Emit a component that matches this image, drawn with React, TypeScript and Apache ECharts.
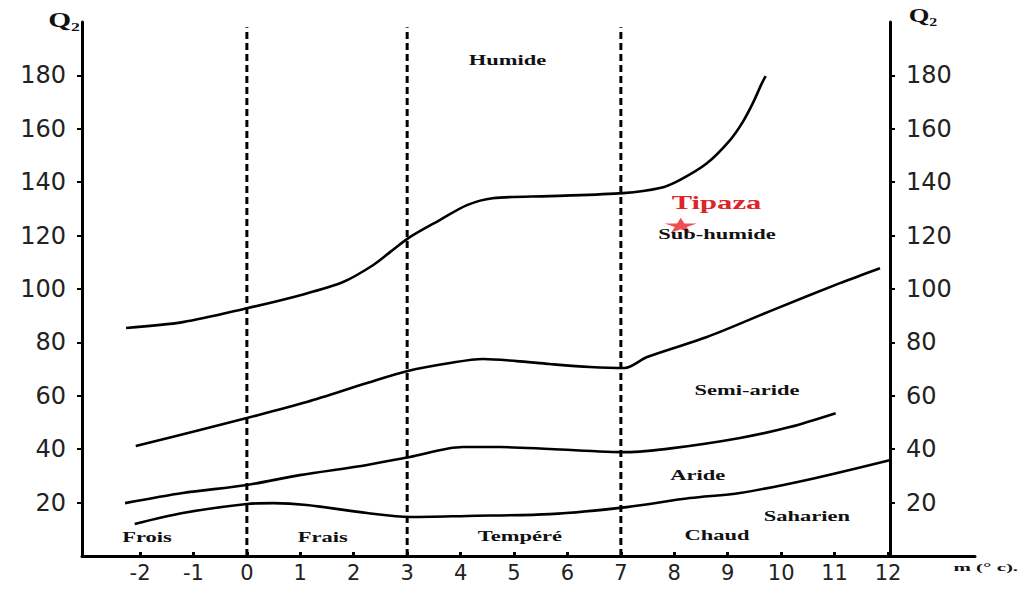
import React, { useEffect, useRef } from "react";
import * as echarts from "echarts";

// ---- data ----
const X_TICKS = [-2, -1, 0, 1, 2, 3, 4, 5, 6, 7, 8, 9, 10, 11, 12];
const Y_TICKS = [20, 40, 60, 80, 100, 120, 140, 160, 180];
const THERMAL_LIMITS = [0, 3, 7];

const humideLimit: [number, number][] = [
  [-2.26, 85.4], [-1.2, 87.6], [0, 92.8], [1, 97.7], [1.8, 102.6], [2.36, 108.9],
  [2.68, 113.8], [3.05, 119.4], [3.61, 125.8], [4.12, 131.4], [4.6, 134], [5.67, 134.8],
  [7.04, 135.9], [7.73, 137.8], [8.1, 140.8], [8.61, 147.1], [9.04, 155.7], [9.28, 162.5],
  [9.47, 169.6], [9.64, 177.1], [9.71, 179.7],
];
const subHumideLimit: [number, number][] = [
  [-2.08, 41.2], [-0.88, 47.2], [0, 51.7], [1.12, 57.7], [2.25, 64.8], [3.01, 69.3],
  [3.8, 72.3], [4.42, 73.8], [5.05, 73], [5.67, 71.9], [6.42, 70.8], [7.07, 70.4],
  [7.49, 74.5], [8.61, 82], [9.84, 92.1], [11.1, 102.2], [11.85, 107.8],
];
const semiArideLimit: [number, number][] = [
  [-2.28, 19.8], [-1.2, 23.6], [0, 26.6], [0.99, 30.3], [2.25, 34.1], [3.05, 37.1],
  [4.04, 40.8], [4.74, 40.8], [5.67, 40.1], [7.11, 38.9], [7.97, 40.4], [9.23, 44.2],
  [10.16, 48.3], [11.02, 53.5],
];
const arideLimit: [number, number][] = [
  [-2.1, 12], [-1.2, 16.1], [0, 19.5], [0.49, 19.8], [1.12, 19.1], [2.25, 16.1],
  [3.05, 14.6], [4.12, 15], [5.67, 15.7], [7.11, 18.3], [8.29, 21.7], [9.23, 23.6],
  [10.48, 28.5], [12.03, 35.9],
];
const STATION_NAME = "Tipaza";
const STATION: [number, number] = [8.12, 123.9];

const ZONE_TEXTS = [
  "Humide", "Sub-humide", "Semi-aride", "Aride", "Saharien",
  "Frois", "Frais", "Tempéré", "Chaud",
];
// anchors (data coordinates) for the texts above, in the same order
const ZONE_ANCHORS: [number, number][] = [
  [4.88, 185.7], [8.8, 120.6], [9.36, 62.1], [8.44, 30.3], [10.48, 15.0],
  [-1.87, 7.1], [1.42, 7.1], [5.11, 7.5], [8.8, 7.9],
];
const X_NAME = "m (° c).";
const Y_NAME = "Q₂";

const STAR =
  "path://M50,0 L61,35 L98,35 L68,57 L79,91 L50,70 L21,91 L32,57 L2,35 L39,35 Z";

const SERIF = '"Liberation Serif", "DejaVu Serif", serif';

export default function App() {
  const ref = useRef<HTMLDivElement>(null);
  useEffect(() => {
    if (!ref.current) return;
    const chart = echarts.init(ref.current, null, { renderer: "svg" });
    const curve = (data: [number, number][]) => ({
      type: "line",
      data,
      showSymbol: false,
      smooth: 0.3,
      lineStyle: { color: "#000", width: 2.6 },
      silent: true,
      z: 3,
    });
    const yAxisCommon = {
      type: "value",
      min: 0,
      max: 200,
      splitLine: { show: false },
      axisLine: { show: true, onZero: false, lineStyle: { color: "#000", width: 3 } },
      axisTick: {
        show: true,
        length: 5,
        lineStyle: { color: "#000", width: 2 },
        customValues: Y_TICKS,
      },
      axisLabel: {
        customValues: Y_TICKS,
        fontSize: 24,
        fontFamily: "DejaVu Sans",
        color: "#222",
        margin: 16,
      },
    };
    chart.setOption({
      animation: false,
      grid: { left: 82, right: 52, top: 22, bottom: 36, containLabel: false },
      xAxis: {
        type: "value",
        min: -3.086,
        max: 13.628,
        splitLine: { show: false },
        axisLine: { show: true, onZero: false, lineStyle: { color: "#000", width: 3 } },
        axisTick: {
          show: true,
          inside: true,
          length: 4,
          lineStyle: { color: "#000", width: 3 },
          customValues: X_TICKS,
        },
        axisLabel: {
          customValues: X_TICKS,
          fontSize: 21,
          fontFamily: "DejaVu Sans",
          color: "#222",
          margin: 6,
        },
      },
      yAxis: [
        { ...yAxisCommon, position: "left" },
        { ...yAxisCommon, position: "right", offset: -85 },
      ],
      series: [
        curve(humideLimit),
        curve(subHumideLimit),
        curve(semiArideLimit),
        curve(arideLimit),
        ...THERMAL_LIMITS.map((x) => ({
          type: "line",
          data: [
            [x, 0],
            [x, 198],
          ],
          showSymbol: false,
          silent: true,
          lineStyle: { color: "#000", width: 3, type: [7, 4] },
          z: 2,
        })),
        {
          type: "scatter",
          data: [STATION],
          symbol: STAR,
          symbolSize: [32, 15],
          itemStyle: { color: "#e8232a" },
          z: 5,
        },
      ],
    });

    const textEl = (
      text: string,
      p: number[],
      size: number,
      scaleX: number,
      color = "#111"
    ) => ({
      type: "text",
      x: p[0],
      y: p[1],
      scaleX,
      z: 10,
      style: {
        text,
        fill: color,
        font: `bold ${size}px ${SERIF}`,
        align: "center",
        verticalAlign: "middle",
        textAlign: "center",
        textVerticalAlign: "middle",
      },
    });
    const toPx = (d: [number, number]) =>
      chart.convertToPixel({ gridIndex: 0 }, d) as number[];
    const graphics: any[] = ZONE_TEXTS.map((t, i) =>
      textEl(t, toPx(ZONE_ANCHORS[i]), 15, 1.5)
    );
    graphics.push(
      textEl(STATION_NAME, toPx([STATION[0] + 0.67, STATION[1] + 8.3]), 18, 1.7, "#e0232a")
    );
    graphics.push(textEl(X_NAME, toPx([13.83, -4.1]), 11, 1.9));
    graphics.push(textEl(Y_NAME, [64, 20], 21, 1.4));
    graphics.push(textEl(Y_NAME, [923, 15], 19, 1.4));
    chart.setOption({ graphic: graphics });

    return () => chart.dispose();
  }, []);
  return (
    <div
      ref={ref}
      style={{ position: "fixed", left: 0, top: 0, width: 1027, height: 592, background: "#fff" }}
    />
  );
}
